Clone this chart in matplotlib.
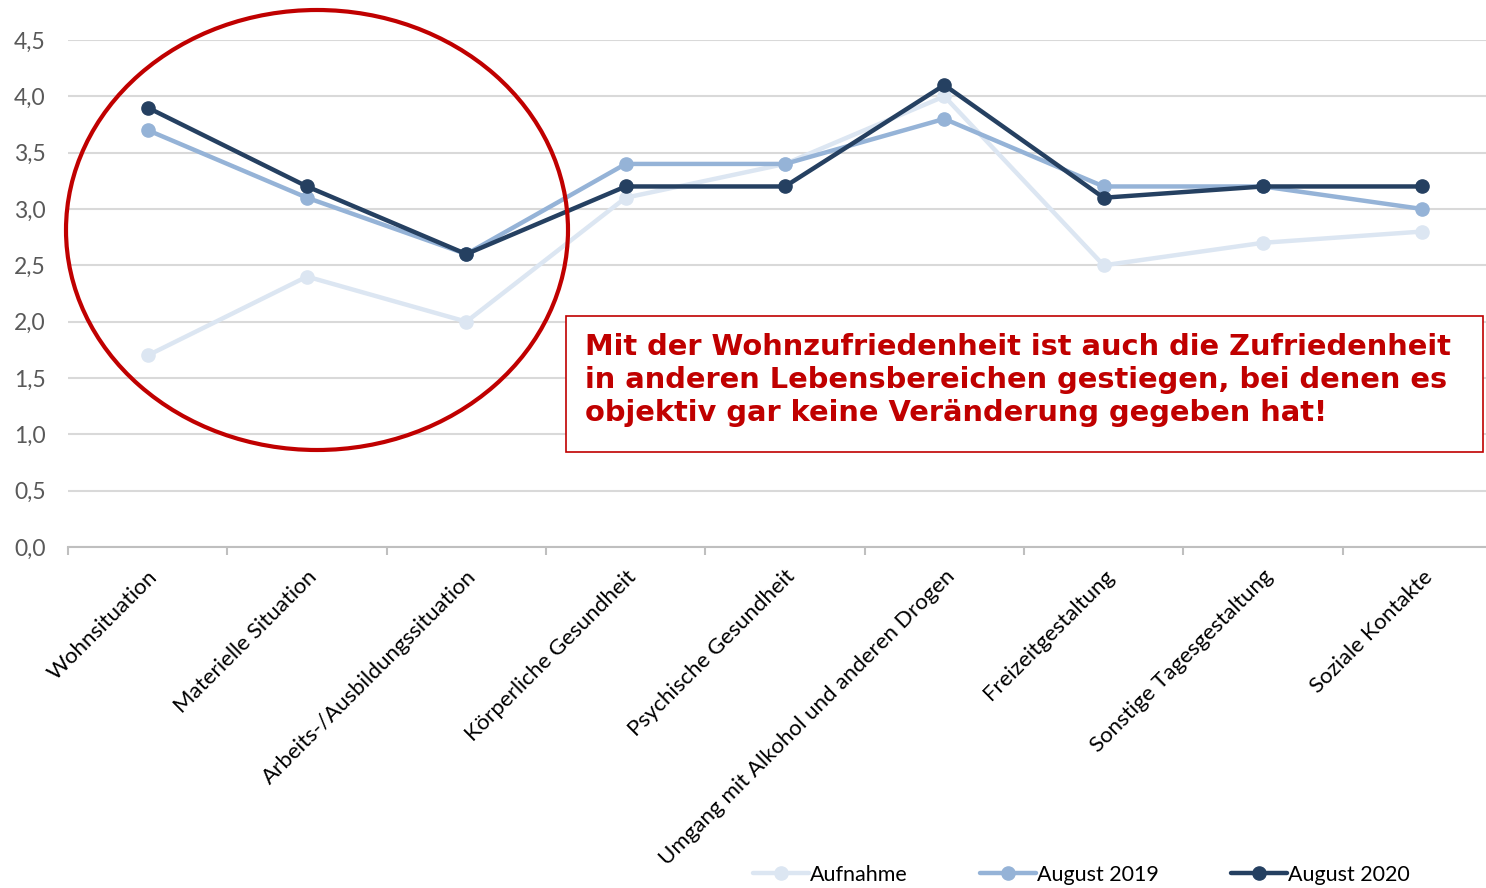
import matplotlib
matplotlib.use("Agg")
import matplotlib.pyplot as plt
from matplotlib.patches import Ellipse, Rectangle
from matplotlib.ticker import FuncFormatter, FixedLocator, NullFormatter

# Data
categories = ["Wohnsituation", "Materielle Situation", "Arbeits-/Ausbildungssituation",
              "Körperliche Gesundheit", "Psychische Gesundheit",
              "Umgang mit Alkohol und anderen Drogen", "Freizeitgestaltung",
              "Sonstige Tagesgestaltung", "Soziale Kontakte"]
aufnahme = [1.7, 2.4, 2.0, 3.1, 3.4, 4.0, 2.5, 2.7, 2.8]
august_2019 = [3.7, 3.1, 2.6, 3.4, 3.4, 3.8, 3.2, 3.2, 3.0]
august_2020 = [3.9, 3.2, 2.6, 3.2, 3.2, 4.1, 3.1, 3.2, 3.2]
series_names = ["Aufnahme", "August 2019", "August 2020"]
colors = ["#DCE6F2", "#95B3D7", "#254061"]

note = ("Mit der Wohnzufriedenheit ist auch die Zufriedenheit\n"
        "in anderen Lebensbereichen gestiegen, bei denen es\n"
        "objektiv gar keine Veränderung gegeben hat!")

plt.rcParams['font.family'] = ['Lato', 'DejaVu Sans']

W, H = 1486, 888
fig = plt.figure(figsize=(W / 100, H / 100), dpi=100)
# plot area in pixels: x 68..1502 (clipped by figure edge), y 40..547
ax = fig.add_axes([68 / W, 1 - 547 / H, 1434 / W, (547 - 40) / H])

x = list(range(len(categories)))
for vals, name, col in zip([aufnahme, august_2019, august_2020], series_names, colors):
    ax.plot(x, vals, color=col, lw=3.2, marker='o', ms=9.5, label=name, zorder=3,
            solid_capstyle='round')

ax.set_xlim(-0.5, len(categories) - 0.5)
ax.set_ylim(0, 4.5)
ax.set_yticks([i * 0.5 for i in range(10)])
ax.yaxis.set_major_formatter(FuncFormatter(lambda v, p: f"{v:.1f}".replace(".", ",")))
ax.grid(axis='y', color='#D9D9D9', lw=1.5)
ax.set_axisbelow(True)
for s in ['top', 'right', 'left']:
    ax.spines[s].set_visible(False)
ax.spines['bottom'].set_color('#BFBFBF')
ax.spines['bottom'].set_linewidth(1.5)
ax.tick_params(axis='y', length=0, labelsize=16.5, labelcolor='#595959', pad=16)

# category labels at centers, tick marks at boundaries
ax.set_xticks(x)
ax.set_xticklabels(categories, rotation=45, ha='right', rotation_mode='anchor',
                   fontsize=16, color='black')
ax.tick_params(axis='x', length=0, pad=14)
ax.xaxis.set_minor_locator(FixedLocator([i - 0.5 for i in range(len(categories) + 1)]))
ax.xaxis.set_minor_formatter(NullFormatter())
ax.tick_params(axis='x', which='minor', length=6, color='#BFBFBF', width=1.5)

# red circle
fig.patches.append(Ellipse((317 / W, 1 - 230 / H), 502 / W, 440 / H,
                           transform=fig.transFigure, fill=False,
                           edgecolor='#C00000', lw=3, zorder=5))
# note box
fig.patches.append(Rectangle((566 / W, 1 - 452 / H), (1483 - 566) / W, (452 - 316) / H,
                             transform=fig.transFigure, facecolor='white',
                             edgecolor='#C00000', lw=1.2, zorder=6))
fig.text(585 / W, 1 - 380 / H, note, transform=fig.transFigure, ha='left', va='center',
         color='#C00000', fontsize=20.8, fontweight='bold', family=['DejaVu Sans'],
         linespacing=1.24, zorder=7)

fig.legend(loc='center', bbox_to_anchor=(1081 / W, 1 - 875 / H), ncol=3, frameon=False,
           fontsize=15.5, handlelength=2.6, columnspacing=3.35, handletextpad=0.05)

fig.savefig("out.png", dpi=100)
